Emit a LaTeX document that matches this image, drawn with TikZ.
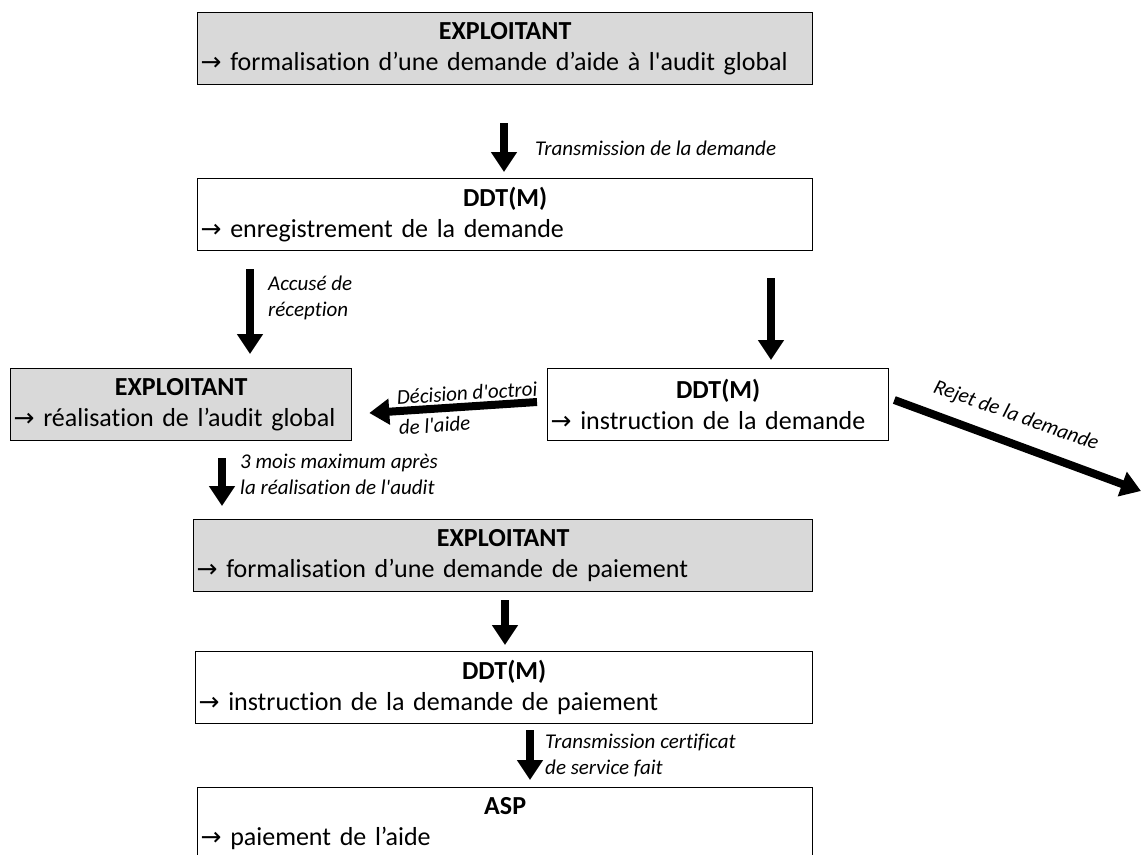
\documentclass[tikz,border=0pt]{standalone}
\usepackage{fontspec}
\setmainfont{Carlito}[Ligatures={TeXOff,CommonOff}]
\newfontfamily\arrfont{DejaVu Sans}
\usetikzlibrary{arrows.meta}
\definecolor{boxgray}{HTML}{D9D9D9}
\newcommand\bxfont{\fontsize{26pt}{31pt}\selectfont}
\newcommand\lbfont{\fontsize{21pt}{26pt}\selectfont\itshape}
\newcommand\rar{{\arrfont\fontsize{25pt}{31pt}\selectfont →}}
\begin{document}
\begin{tikzpicture}[x=1pt,y=-1pt,
  stepbox/.style={draw=black,line width=1.3pt,rectangle,anchor=north west,
     inner xsep=3pt,inner ysep=0pt,minimum height=72pt,text width=#1,align=left,font=\bxfont},
  graybox/.style={stepbox=#1,fill=boxgray},
  flow/.style={line width=8pt,-{Triangle[length=20pt,width=25pt]}},
  lab/.style={font=\lbfont,align=left,inner sep=0pt},
]
\useasboundingbox (0,0) rectangle (1143,854);

% boxes
\node[graybox=609] (b1) at (197,12) {{\centering\bfseries EXPLOITANT\par}\rar\ formalisation d’une demande d’aide à l'audit global};
\node[stepbox=609] (b2) at (197,178) {{\centering\bfseries DDT(M)\par}\rar\ enregistrement de la demande};
\node[graybox=335] (b3) at (10,368) {{\centering\bfseries EXPLOITANT\par}\rar\ réalisation de l’audit global};
\node[stepbox=335] (b4) at (547,368) {{\centering\bfseries DDT(M)\par}\rar\ instruction de la demande};
\node[graybox=613] (b5) at (193,519) {{\centering\bfseries EXPLOITANT\par}\rar\ formalisation d’une demande de paiement};
\node[stepbox=611] (b6) at (195,651) {{\centering\bfseries DDT(M)\par}\rar\ instruction de la demande de paiement};
\node[stepbox=609] (b7) at (197,787) {{\centering\bfseries ASP\par}\rar\ paiement de l’aide};

% connectors
\draw[flow,shorten <=38pt,shorten >=6pt] (b1.south -| 504,0) -- (b2.north -| 504,0);
\draw[flow,shorten <=18pt,shorten >=14pt] (b2.south -| 250,0) -- (b3.north -| 250,0);
\draw[flow,shorten <=27pt,shorten >=8pt] (b2.south -| 771,0) -- (b4.north -| 771,0);
\draw[flow] ([xshift=-10pt,yshift=-34pt]b4.north west) -- ([xshift=17pt,yshift=-45pt]b3.north east);
\coordinate (rej) at (1141,491);
\draw[flow] ([xshift=5pt,yshift=-32pt]b4.north east) -- (rej);
\draw[flow,shorten <=17pt,shorten >=13pt] (b3.south -| 222,0) -- (b5.north -| 222,0);
\draw[flow,shorten <=8pt,shorten >=6pt] (b5.south -| 505,0) -- (b6.north -| 505,0);
\draw[flow,shorten <=6pt,shorten >=7pt] (b6.south -| 530,0) -- (b7.north -| 530,0);

% labels
\node[lab,anchor=west] (l1) at (535,148) {Transmission de la demande};
\node[lab,anchor=west] (l2) at (268,298) {Accusé de\\réception};
\node[lab,anchor=center,rotate=3.7,font=\fontsize{21pt}{30pt}\selectfont\itshape] (l4) at (468,408) {Décision d'octroi\\de l'aide};
\node[lab,rotate=-19.6] (l5) at (1016,416) {Rejet de la demande};
\node[lab,anchor=west] (l6) at (240,474) {3 mois maximum après\\la réalisation de l'audit};
\node[lab,anchor=west] (l8) at (545,755) {Transmission certificat\\de service fait};
\end{tikzpicture}
\end{document}
